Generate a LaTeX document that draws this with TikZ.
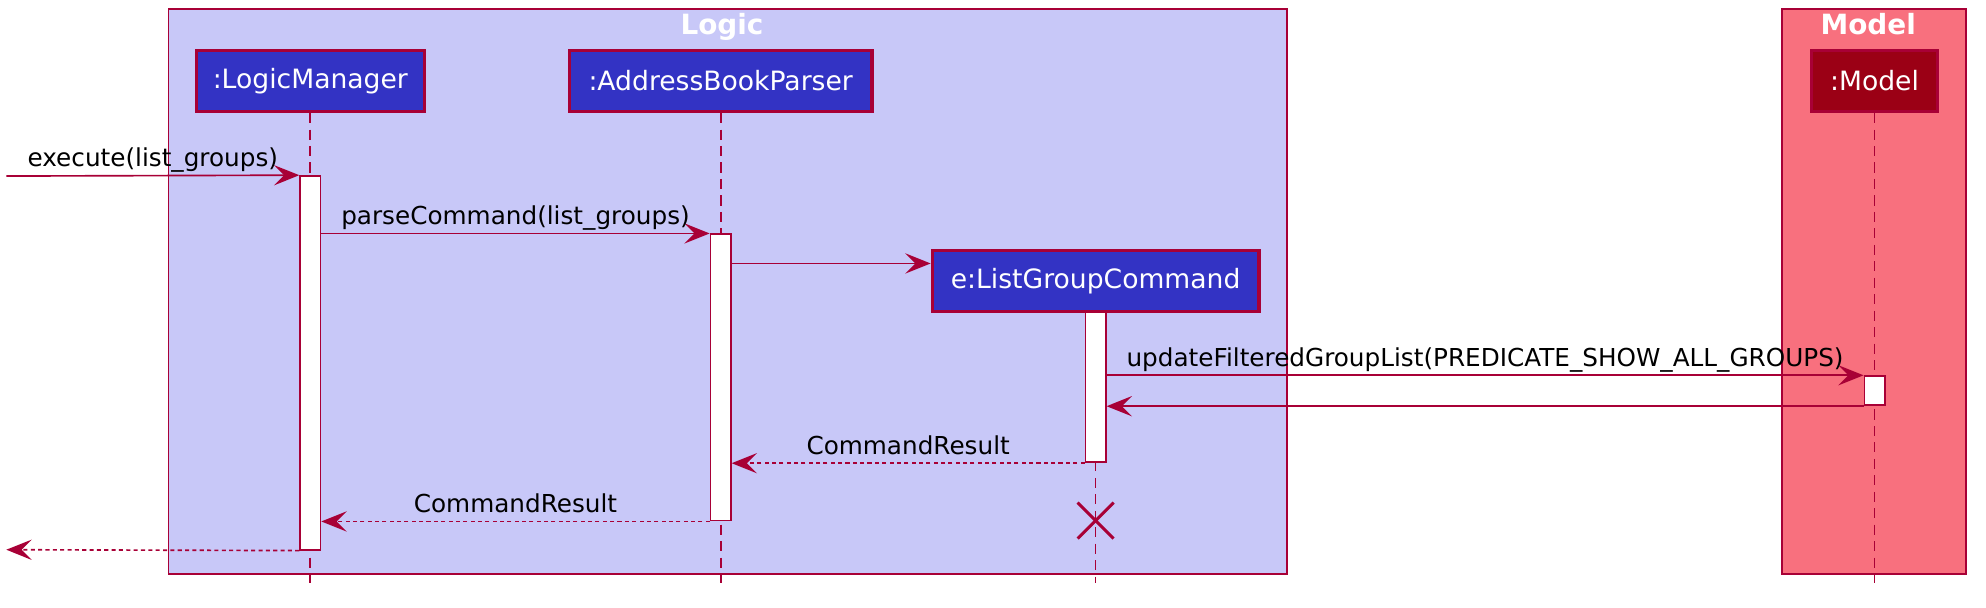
\documentclass[tikz,border=0pt]{standalone}
\usepackage{fontspec}
\setmainfont{DejaVu Sans}
\usetikzlibrary{arrows.meta}
\definecolor{bord}{HTML}{A80036}
\definecolor{logicbg}{HTML}{C8C8F8}
\definecolor{modelbg}{HTML}{F8707E}
\definecolor{partblue}{HTML}{3333C4}
\definecolor{partred}{HTML}{9B0015}
\begin{document}
\begin{tikzpicture}[x=1pt,y=-1pt,
  grp/.style={draw=bord, line width=1.5pt, inner sep=0pt},
  part/.style={draw=bord, line width=2.5pt, text=white, font=\fontsize{21}{25}\selectfont, inner sep=0pt, minimum height=48pt},
  lifeline/.style={draw=bord, line width=1.3pt, dash pattern=on 8pt off 5pt},
  act/.style={draw=bord, fill=white, line width=1.4pt, minimum width=16pt, inner sep=0pt},
  msg/.style={draw=bord, line width=1.3pt, -{Stealth[length=20pt,width=16pt,inset=8pt]}},
  ret/.style={msg, dash pattern=on 3.2pt off 2.6pt},
  lbl/.style={anchor=base, yshift=7pt, font=\fontsize{19.5}{23}\selectfont, inner sep=0pt},
  ttl/.style={anchor=base, text=white, font=\bfseries\fontsize{22}{26}\selectfont, inner sep=0pt},
  destroy/.style={draw=bord, line width=2.4pt}
]
\useasboundingbox (0,0) rectangle (1568,480);

% groups
\node[grp, fill=logicbg, minimum width=883pt, minimum height=446pt] (logic) at (574.5,230) {};
\node[grp, fill=modelbg, minimum width=145pt, minimum height=446pt] (model) at (1479.5,230) {};
\node[ttl] (logict) at (570,27) {Logic};
\node[ttl] (modelt) at (1475,27) {Model};

% participants (placed first for lifeline anchors, redrawn later on top)
\node[part, fill=partblue, minimum width=180pt] (lm) at (245,64) {:LogicManager};
\node[part, fill=partblue, minimum width=239pt] (abp) at (569,64) {:AddressBookParser};
\node[part, fill=partblue, minimum width=258pt] (lgc) at (865,222) {e:ListGroupCommand};
\node[part, fill=partred, minimum width=100pt] (mdl) at (1480,64) {:Model};

% lifeline ends
\coordinate (lmend) at (245,460);
\coordinate (abpend) at (569,460);
\coordinate (lgcend) at (865,460);
\coordinate (mdlend) at (1480,460);
\draw[lifeline] (lm.south) -- (lmend);
\draw[lifeline] (abp.south) -- (abpend);
\draw[lifeline] (lgc.south) -- (lgcend);
\draw[lifeline] (mdl.south) -- (mdlend);

% activations
\node[act, minimum height=295pt] (lmact) at (245,286.5) {};
\node[act, minimum height=226pt] (abpact) at (569,298) {};
\node[act, minimum height=119pt] (lgcact) at (865,305.5) {};
\node[act, minimum height=23pt] (mact) at (1480,308.5) {};

% message endpoints
\coordinate (in) at (5,139);
\coordinate (out) at (5,434);
\coordinate (create) at (0,208);

% messages
\draw[msg] (in) -- node[lbl] {execute(list\_groups)} (lmact.north west);
\draw[msg] (abpact.north west -| lmact.east) -- node[lbl] {parseCommand(list\_groups)} (abpact.north west);
\draw[msg] (abpact.east |- create) -- (lgc.west |- create);
\draw[msg] (mact.north west -| lgcact.east) -- node[lbl] {updateFilteredGroupList(PREDICATE\_SHOW\_ALL\_GROUPS)} (mact.north west);
\draw[msg] (mact.south west) -- (lgcact.east |- mact.south west);
\draw[ret] (lgcact.south west) -- node[lbl] {CommandResult} (abpact.east |- lgcact.south west);
\draw[ret] (abpact.south west) -- node[lbl] {CommandResult} (lmact.east |- abpact.south west);
\draw[ret] (lmact.south west) -- (out);

% destroy mark
\node[inner sep=0pt, minimum size=28pt] (x) at (865,411) {};
\draw[destroy] (x.north west) -- (x.south east);
\draw[destroy] (x.north east) -- (x.south west);

% participants on top
\node[part, fill=partblue, minimum width=180pt] at (lm) {:LogicManager};
\node[part, fill=partblue, minimum width=239pt] at (abp) {:AddressBookParser};
\node[part, fill=partblue, minimum width=258pt] at (lgc) {e:ListGroupCommand};
\node[part, fill=partred, minimum width=100pt] at (mdl) {:Model};
\end{tikzpicture}
\end{document}
